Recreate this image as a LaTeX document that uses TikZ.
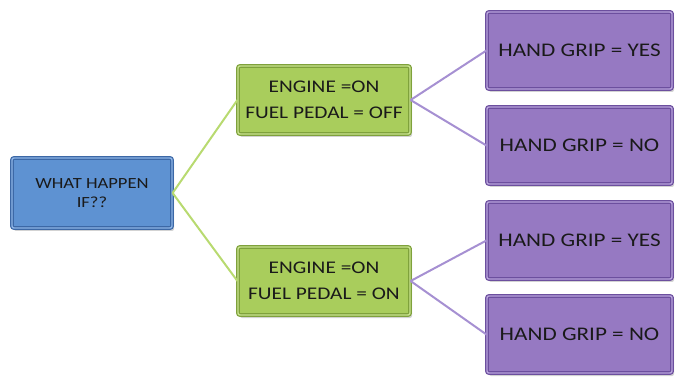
\documentclass[tikz,border=0pt]{standalone}
\usepackage{fontspec}
\setmainfont{Carlito}[FakeStretch=1.2]
\usetikzlibrary{shadows}
\definecolor{bfill}{HTML}{5E92D2}
\definecolor{bdraw}{HTML}{3C68A6}
\definecolor{blite}{HTML}{8DB4E6}
\definecolor{gfill}{HTML}{A9CD5C}
\definecolor{gdraw}{HTML}{7FA13C}
\definecolor{glite}{HTML}{C8E38E}
\definecolor{pfill}{HTML}{9679C2}
\definecolor{pdraw}{HTML}{6C4F9E}
\definecolor{plite}{HTML}{B8A3DC}
\definecolor{gline}{HTML}{B8DA70}
\definecolor{pline}{HTML}{A690D2}
\definecolor{txt}{HTML}{1A1A1A}
\tikzset{
  boxbase/.style={rectangle, rounded corners=2pt, line width=1.2pt, double distance=1.4pt, align=center, inner sep=2pt, text=txt,
    drop shadow={shadow xshift=2pt, shadow yshift=-3pt, opacity=0.35}},
  bluebox/.style={boxbase, fill=bfill, draw=bdraw, double=blite, minimum width=160pt, minimum height=70pt, font=\fontsize{15.5}{19}\selectfont},
  greenbox/.style={boxbase, fill=gfill, draw=gdraw, double=glite, minimum width=172pt, minimum height=68pt, font=\fontsize{17.8}{26}\selectfont},
  purplebox/.style={boxbase, fill=pfill, draw=pdraw, double=plite, minimum width=185pt, minimum height=77pt, font=\fontsize{19.3}{22}\selectfont},
  gconn/.style={draw=gline, line width=2pt},
  pconn/.style={draw=pline, line width=2pt}
}
\begin{document}
\begin{tikzpicture}[x=1pt,y=-1pt]
\useasboundingbox (0,0) rectangle (675,382);
\node[bluebox] (root) at (92,193) {WHAT HAPPEN\\IF??};
\node[greenbox] (g1) at (324,100) {ENGINE =ON\\FUEL PEDAL = OFF};
\node[greenbox] (g2) at (324,281) {ENGINE =ON\\FUEL PEDAL = ON};
\node[purplebox] (p1) at (579.5,50.5) {HAND GRIP = YES};
\node[purplebox] (p2) at (579.5,145.5) {HAND GRIP = NO};
\node[purplebox] (p3) at (579.5,240.5) {HAND GRIP = YES};
\node[purplebox] (p4) at (579.5,334.5) {HAND GRIP = NO};
\draw[gconn] (root.east) -- (g1.west);
\draw[gconn] (root.east) -- (g2.west);
\draw[pconn] (g1.east) -- (p1.west);
\draw[pconn] (g1.east) -- (p2.west);
\draw[pconn] (g2.east) -- (p3.west);
\draw[pconn] (g2.east) -- (p4.west);
\end{tikzpicture}
\end{document}
